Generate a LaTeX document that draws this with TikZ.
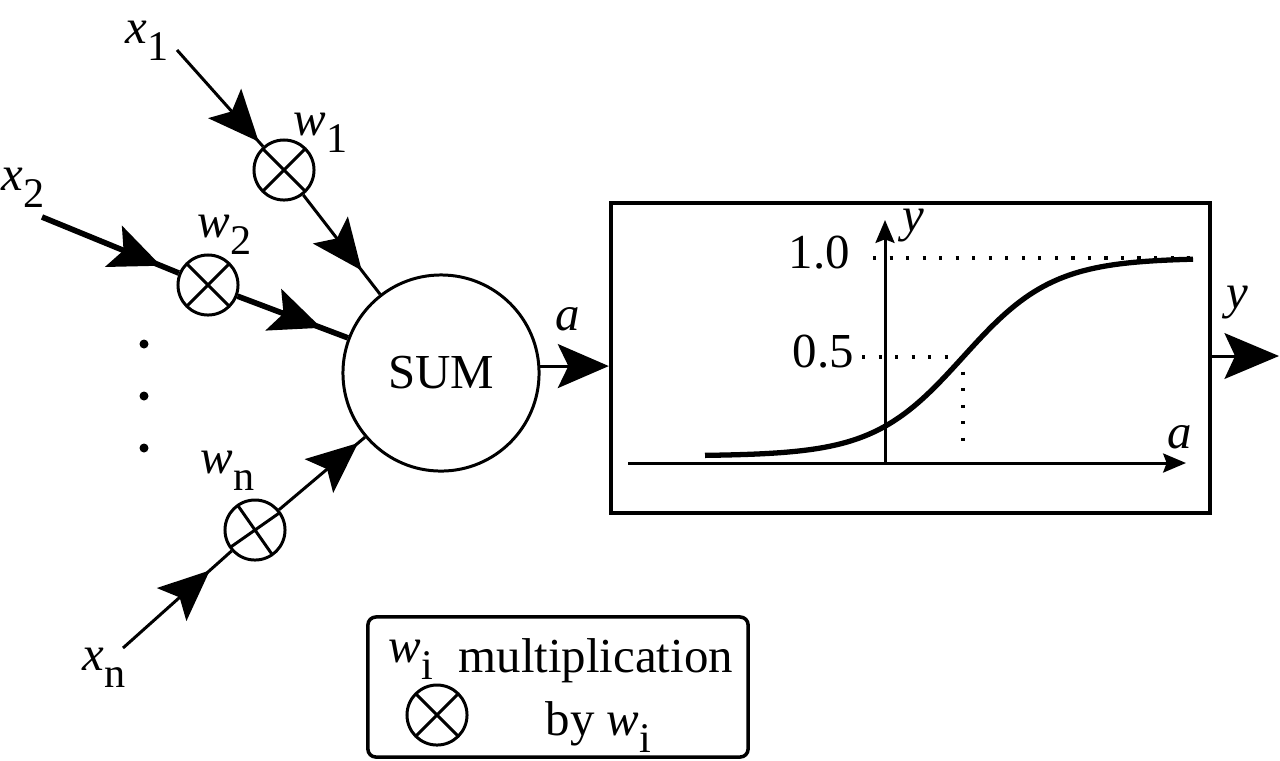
\documentclass[tikz,border=0pt]{standalone}
\usepackage{fontspec}
\setmainfont{Liberation Serif}
\newfontfamily\timesfont{Liberation Serif}
\usetikzlibrary{arrows.meta, decorations.markings}
% 添字（下付き・立体）
\newcommand{\lowsub}[1]{\raisebox{-0.35em}{\fontsize{12pt}{12pt}\selectfont #1}}

\begin{document}
\begin{tikzpicture}[
    x=0.01cm, y=-0.01cm, % 画素単位の座標
    font=\timesfont\fontsize{13.9pt}{16pt}\selectfont,
    >=Stealth, % 矢印の形
    bigtip/.tip={Stealth[length=14.5pt, width=12.5pt, inset=3pt]},
    smalltip/.tip={Stealth[length=6.5pt, width=5.4pt, inset=1pt]},
    % 線の太さ
    wire/.style={line width=0.85pt},
    heavy/.style={line width=1.6pt},
    % 線の途中の矢印
    midtip/.style={postaction={decorate}, decoration={markings, mark=at position #1 with {\arrow{bigtip}}}},
    % 掛け算の丸（バツ印）
    mult/.style={circle, draw, line width=0.85pt, minimum size=0.6cm, inner sep=0pt,
        path picture={\draw[line width=0.85pt] (path picture bounding box.center) +(#1:40) -- +(#1+180:40)
            (path picture bounding box.center) +(#1+90:40) -- +(#1+270:40);}},
    mult/.default=45,
    % 足し合わせの丸
    sum/.style={circle, draw, line width=0.85pt, minimum size=1.96cm, inner sep=0pt},
    % 文字ラベル
    lbl/.style={anchor=base west, inner sep=0pt},
    % 点線
    dots/.style={line width=0.9pt, dash pattern=on 0.9pt off 3.8pt}
]
\useasboundingbox (0,0) rectangle (1280,760);

% 1. 各要素（ノード）の配置
\node [sum] (sum) at (441,373) {SUM};
\node [mult] (w1) at (284,170) {};
\node [mult] (w2) at (208,285) {};
\node [mult=-35] (wn) at (255,530) {};
\coordinate (x1in) at (177,50);
\coordinate (x2in) at (42,217);
\coordinate (xnin) at (123,648);

\node [lbl] (x1) at (125,43) {\textit{x}\lowsub{1}};
\node [lbl] (x2) at (1,190) {\textit{x}\lowsub{2}};
\node [lbl] (xn) at (82,670) {\textit{x}\lowsub{n}};
\node [lbl] (w1lbl) at (293,135) {\textit{w}\lowsub{1}};
\node [lbl] (w2lbl) at (197,237) {\textit{w}\lowsub{2}};
\node [lbl] (wnlbl) at (200,473) {\textit{w}\lowsub{n}};
\foreach \y in {344,396,448}
    \fill (144,\y) circle [radius=0.045cm];

% 活性化関数のブロック
\node [draw, line width=1.15pt, minimum width=5.99cm, minimum height=3.1cm, inner sep=0pt] (act) at (910.5,358) {};
\node [lbl] (alabel) at (555,330) {\textit{a}};
\coordinate (yout) at (1279,356);
\node [lbl] (ylabel) at (1226,308) {\textit{y}};

% 凡例
\node [draw, rounded corners=0.08cm, line width=1pt, minimum width=3.8cm, minimum height=1.4cm] (legend) at (558,687) {};
\node [mult] (wi) at (437,715) {};
\node [lbl] (wilbl) at (388,662) {\textit{w}\lowsub{i}};
\node [lbl] (multtext) at (458,672) {multiplication};
\node [lbl] (bytext) at (545,735) {by \textit{w}\lowsub{i}};

% 2. 要素同士を線（矢印）で結ぶ
\draw [wire, midtip=0.95] (x1in) -- (w1);
\draw [heavy, midtip=0.87] (x2in) -- (w2);
\draw [wire, midtip=0.80] (xnin) -- (wn);
\draw [wire, midtip=0.76] (w1) -- (sum);
\draw [heavy, midtip=0.76] (w2) -- (sum);
\draw [wire, midtip=0.92] (wn) -- (sum);
\draw [wire, -{bigtip}] (sum.4) -- (sum.4 -| act.west);
\draw [wire, -{Stealth[length=15.5pt, width=13pt, inset=3pt]}] (act.east |- yout) -- (yout);

% 3. シグモイド曲線と軸
\draw [wire, -{smalltip}] (628,463) -- (1186,463);
\draw [wire, -{smalltip}] (885,463) -- (885,220);
\draw [dots] (873,258) -- (1193,258);
\draw [dots] (862,357) -- (963,357) -- (963,452);
\draw [line width=1.5pt] plot [domain=705:1193, samples=100, smooth] (\x, {456-198/(1+exp(-(\x-963)/45))});
\node [lbl] (one) at (788,268) {1.0};
\node [lbl] (half) at (792,367) {0.5};
\node [lbl] (yaxis) at (902,231) {\textit{y}};
\node [lbl] (aaxis) at (1167,448) {\textit{a}};

\end{tikzpicture}
\end{document}
